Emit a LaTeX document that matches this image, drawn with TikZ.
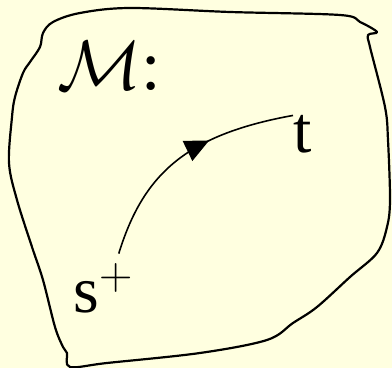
\RequirePackage{fix-cm}
\documentclass[tikz,border=0pt]{standalone}
\usepackage{fontspec}
\setmainfont{Liberation Serif}
\usetikzlibrary{arrows.meta,decorations.markings}
\definecolor{paper}{HTML}{FFFFE0}

\begin{document}
\begin{tikzpicture}[x=0.5pt, y=-0.5pt,
  font=\fontsize{33}{40}\selectfont,
  lbl/.style={inner sep=0pt, anchor=base west},
  rim/.style={line width=1.1pt, line join=round},
  flow/.style={line width=0.8pt, postaction={decorate},
    decoration={markings,
      mark=at position 0.63 with {\arrow{Triangle[length=12pt,width=11pt]}}}}
]
  \fill[paper] (0,0) rectangle (392,368);
  \useasboundingbox (0,0) rectangle (392,368);

  % the manifold outline
  \draw[rim] plot[smooth cycle, tension=0.55] coordinates {
    (43,33) (53,22) (80,13) (130,8) (230,12) (340,15) (360,22) (377,32)
    (368,35) (370,47) (385,107) (388,140) (390,200) (387,227) (377,253)
    (350,277) (317,307) (293,323) (267,340) (200,353) (107,363) (70,367)
    (67,353) (63,347) (55,327) (43,280) (32,247) (17,200) (9,163)
    (12,117) (15,97) (23,73) (30,62) (40,47)};

  \node[lbl, font=\fontsize{35}{42}\selectfont] (M) at (57,90) {$\mathcal{M}$:};
  \node[lbl] (t) at (293,153) {t};
  \node[lbl] (sp) at (73,313) {s$^+$};

  \draw[flow] ([shift={(-15,-9)}]sp.north east)
    .. controls (143,175) and (185,135) .. (t.north west);
\end{tikzpicture}
\end{document}
